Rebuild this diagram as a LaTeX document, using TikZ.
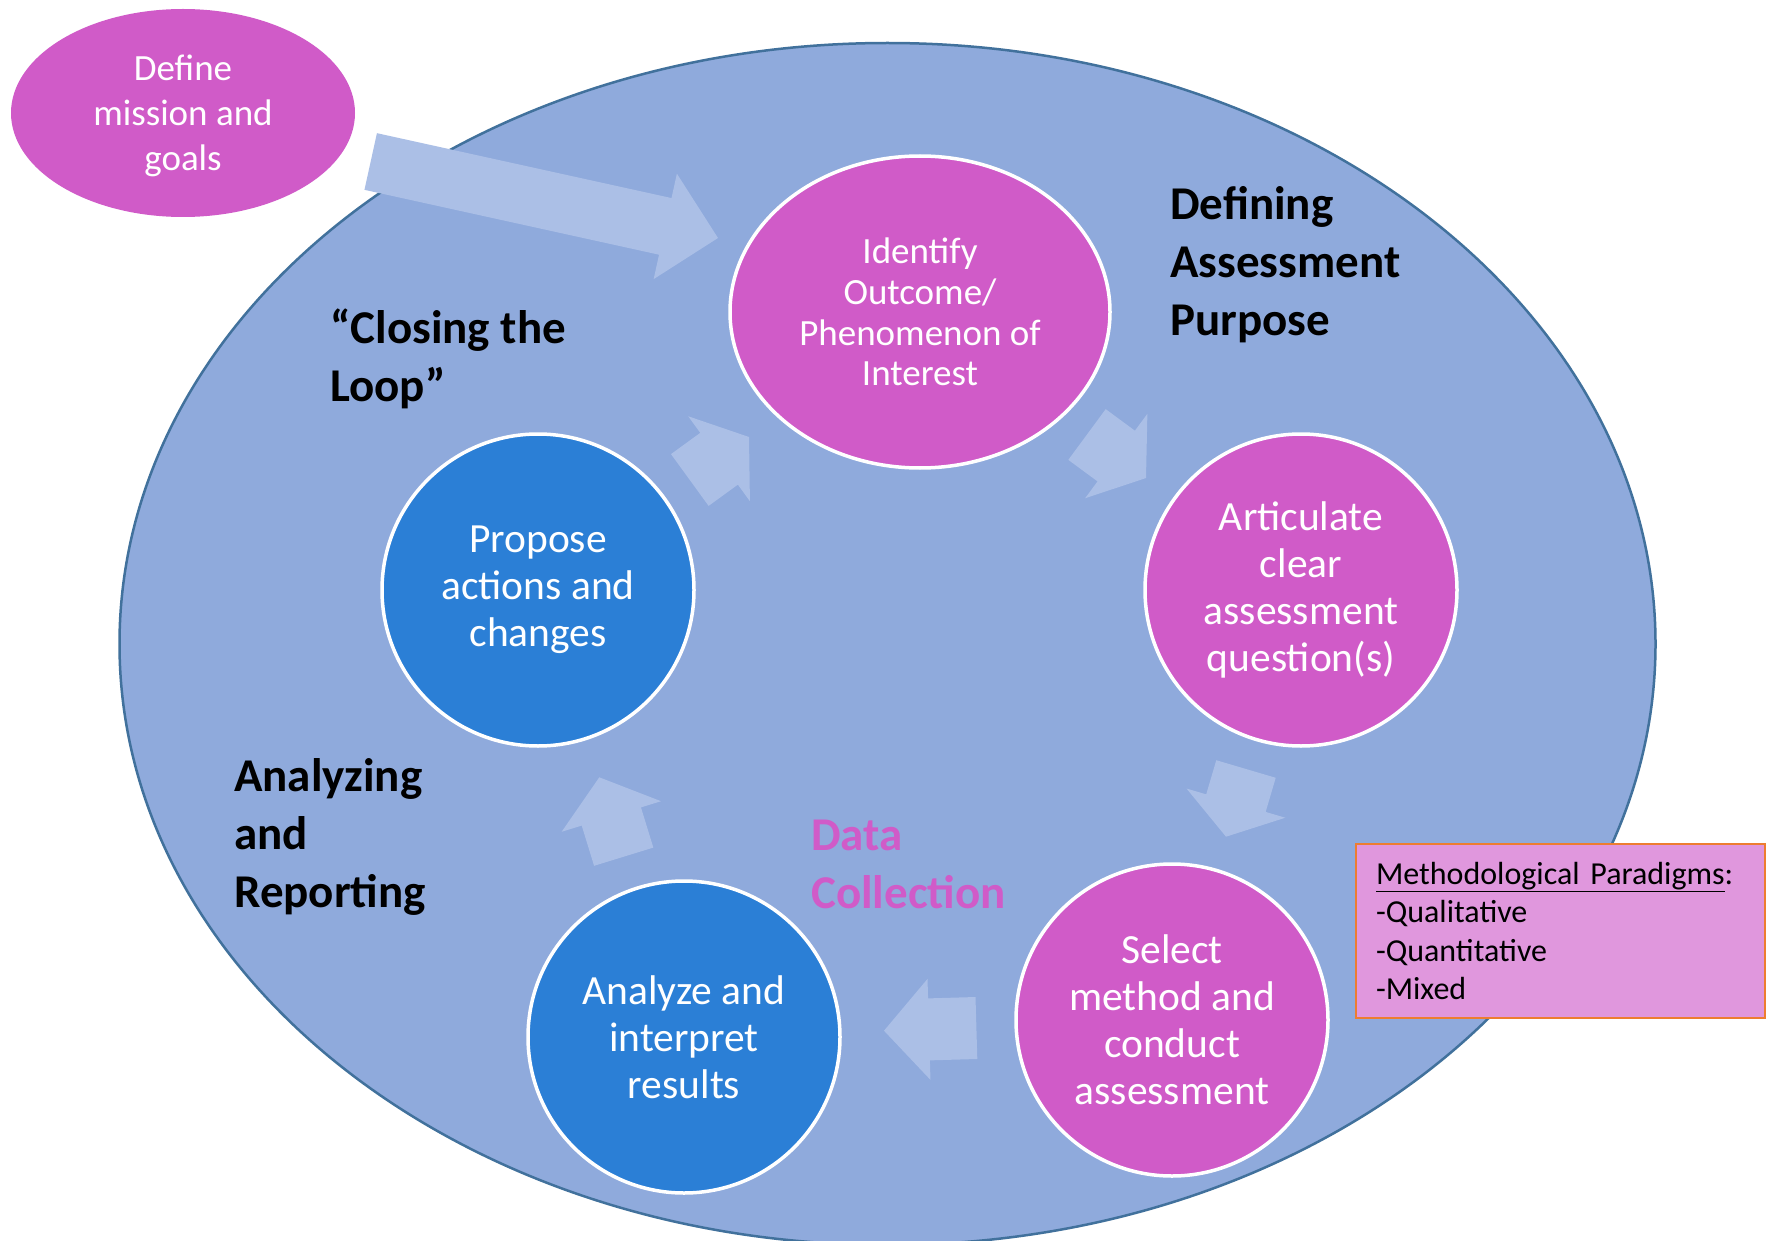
\documentclass[tikz,border=0pt]{standalone}
\usepackage{fontspec}
\setmainfont{Carlito}
\usetikzlibrary{shapes.geometric,calc}
\definecolor{bgblue}{HTML}{8FAADC}
\definecolor{bgedge}{HTML}{41719C}
\definecolor{pinkc}{HTML}{D05BC8}
\definecolor{bluec}{HTML}{2B7FD6}
\definecolor{arrowc}{HTML}{ABBFE6}
\definecolor{boxfill}{HTML}{E097DD}
\definecolor{boxedge}{HTML}{ED7D31}
% tail, tip, half shaft, half head, head length
\newcommand{\blockarrow}[5]{%
  \coordinate (tmpH) at ($(#2)!#5!(#1)$);
  \fill[arrowc] ($(#1)!#3!90:(#2)$) -- ($(tmpH)!#3!-90:(#1)$) -- ($(tmpH)!#4!-90:(#1)$)
    -- (#2) -- ($(tmpH)!#4!90:(#1)$) -- ($(tmpH)!#3!90:(#1)$) -- ($(#1)!#3!-90:(#2)$) -- cycle;}
\tikzset{
  stepcircle/.style={circle, draw=white, line width=3.5, minimum size=312, inner sep=0,
    text=white, align=center, font=\fontsize{41.5}{47}\selectfont},
  pinknode/.style={stepcircle, fill=pinkc},
  bluenode/.style={stepcircle, fill=bluec},
  phaselabel/.style={anchor=west, align=left, inner sep=0, font=\bfseries\fontsize{47}{58}\selectfont}
}
\begin{document}
\begin{tikzpicture}[x=1pt,y=-1pt]
\useasboundingbox (0,0) rectangle (1772,1241);
\clip (0,0) rectangle (1772,1241);
\fill[white] (0,0) rectangle (1772,1241);
% background ellipse
\node[ellipse, draw=bgedge, fill=bgblue, line width=2.5, minimum width=1536, minimum height=1202, inner sep=0] (bg) at (887.5,644) {};
% big arrow from define
\coordinate (a1t) at (370.7,161.5);
\coordinate (a1h) at (718,238);
\blockarrow{a1t}{a1h}{29pt}{54pt}{54pt}
% define
\node[ellipse, fill=pinkc, minimum width=344, minimum height=208, inner sep=0, text=white, align=center,
  font=\fontsize{37}{45}\selectfont] (define) at (183,113) {\\[-13.7pt]Define\\mission and\\goals};
% cycle nodes
\node[ellipse, draw=white, line width=3.5, fill=pinkc, minimum width=380, minimum height=312, inner sep=0,
  text=white, align=center, font=\fontsize{37}{40.7}\selectfont] (identify) at (920,312)
  {Identify\\Outcome/\\Phenomenon of\\Interest};
\node[pinknode] (articulate) at (1301,590) {Articulate\\clear\\assessment\\question(s)};
\node[pinknode] (select) at (1172,1020) {Select\\method and\\conduct\\assessment};
\node[bluenode] (analyze) at (684,1037) {Analyze and\\interpret\\results};
\node[bluenode] (propose) at (538,590) {Propose\\actions and\\changes};
% cycle arrows
\coordinate (a2t) at (689.8,480);   \coordinate (a2h) at (749,437);
\coordinate (a3t) at (1087,434.5);  \coordinate (a3h) at (1146,478);
\coordinate (a4t) at (1246,769);    \coordinate (a4h) at (1226,836.7);
\coordinate (a5t) at (976.4,1028);  \coordinate (a5h) at (884,1030.7);
\coordinate (a6t) at (623.7,856.7); \coordinate (a6h) at (599.3,777.3);
\blockarrow{a2t}{a2h}{32pt}{52.5pt}{37pt}
\blockarrow{a3t}{a3h}{31.5pt}{52.5pt}{37pt}
\blockarrow{a4t}{a4h}{31pt}{51.5pt}{35pt}
\blockarrow{a5t}{a5h}{31pt}{50.5pt}{45pt}
\blockarrow{a6t}{a6h}{31pt}{52pt}{41pt}
% phase labels
\node[phaselabel] (defining) at (1170,264.5) {Defining\\Assessment\\Purpose};
\node[phaselabel] (closing) at (330,358.8) {“Closing the\\Loop”};
\node[phaselabel] (analyzing) at (234,837.3) {Analyzing\\and\\Reporting};
\node[phaselabel, text=pinkc] (datacoll) at (811,864.5) {Data\\Collection};
% methodological box
\node[draw=boxedge, fill=boxfill, line width=2, minimum width=409, minimum height=174,
  text width=369, inner xsep=20, align=left, font=\fontsize{32}{38.4}\selectfont] (paradigms) at (1560.5,931)
  {\underline{Methodological Paradigms}:\\-Qualitative\\-Quantitative\\-Mixed};
\end{tikzpicture}
\end{document}
